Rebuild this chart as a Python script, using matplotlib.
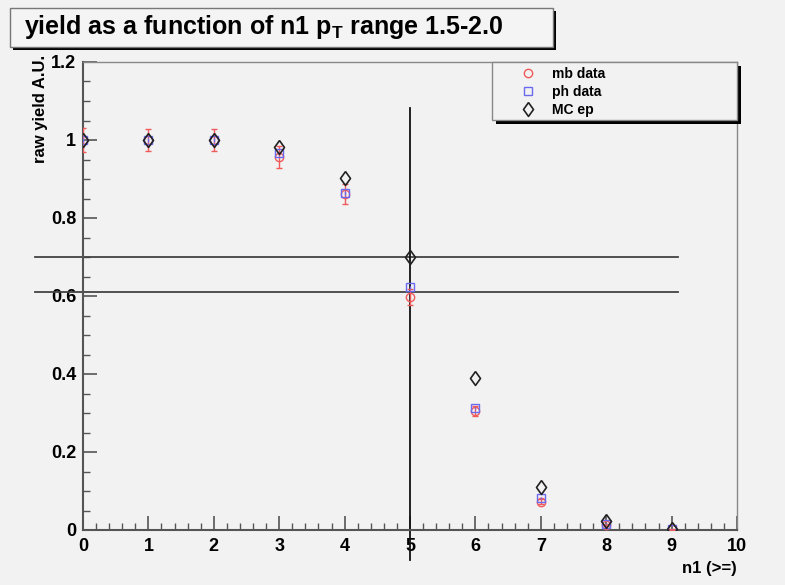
import numpy as np
import matplotlib.pyplot as plt
from matplotlib.patches import Rectangle
from matplotlib.lines import Line2D
from matplotlib.ticker import MultipleLocator, FuncFormatter

plt.rcParams['font.family'] = ['Liberation Sans', 'DejaVu Sans']
plt.rcParams['font.weight'] = 'bold'
plt.rcParams['mathtext.fontset'] = 'custom'
plt.rcParams['mathtext.rm'] = 'Liberation Sans:bold'
plt.rcParams['mathtext.bf'] = 'Liberation Sans:bold'

# data
n1 = [0, 1, 2, 3, 4, 5, 6, 7, 8, 9]
mb_data = [1.0, 1.0, 1.0, 0.957, 0.862, 0.597, 0.305, 0.073, 0.013, 0.002]
mb_err = [0.03, 0.028, 0.028, 0.028, 0.025, 0.02, 0.012, 0.006, 0.003, 0.001]
ph_data = [1.0, 1.0, 1.0, 0.966, 0.864, 0.622, 0.312, 0.082, 0.016, 0.002]
ph_err = [0.004, 0.004, 0.004, 0.004, 0.004, 0.004, 0.003, 0.002, 0.001, 0.001]
mc_ep = [1.0, 1.0, 1.0, 0.981, 0.903, 0.700, 0.390, 0.110, 0.022, 0.003]
hlines = [0.70, 0.61]
vline = 5

red = '#f05a5a'
blue = '#6a6af0'
dark = '#222222'
bg = '#f2f2f2'
# ROOT open diamond, a bit wider than matplotlib's thin diamond
diamond = [(0, 1), (0.72, 0), (0, -1), (-0.72, 0), (0, 1)]

fig = plt.figure(figsize=(7.85, 5.85), dpi=100, facecolor=bg)
W, H = 785.0, 585.0
ax = fig.add_axes([83 / W, 55 / H, 654 / W, 468 / H])
ax.set_facecolor(bg)

ax.errorbar(n1, mb_data, yerr=mb_err, fmt='o', mfc='none', mec=red,
            ecolor=red, ms=6, mew=1.0, capsize=2, elinewidth=1.0, zorder=3)
ax.errorbar(n1, ph_data, yerr=ph_err, fmt='s', mfc='none', mec=blue,
            ecolor=blue, ms=5.5, mew=1.0, capsize=0, elinewidth=1.0, zorder=4)
ax.plot(n1, mc_ep, ls='none', marker=diamond, mfc='none', mec=dark, ms=10, mew=1.2, zorder=5)

# cut lines drawn across and outside the frame
for yv in hlines:
    ax.plot([-0.73, 9.1], [yv, yv], color='#444444', lw=1.3, clip_on=False, zorder=2)
ax.plot([vline, vline], [-0.077, 1.082], color='#111111', lw=1.3, clip_on=False, zorder=2)

ax.set_xlim(0, 10)
ax.set_ylim(0, 1.2)
ax.xaxis.set_major_locator(MultipleLocator(1))
ax.xaxis.set_minor_locator(MultipleLocator(0.2))
ax.yaxis.set_major_locator(MultipleLocator(0.2))
ax.yaxis.set_minor_locator(MultipleLocator(0.05))
ax.yaxis.set_major_formatter(FuncFormatter(lambda v, p: '%g' % round(v, 2)))
ax.tick_params(axis='both', which='major', direction='in', length=10, width=1.2,
               color='#555555', labelsize=13, pad=6)
ax.tick_params(axis='both', which='minor', direction='in', length=5, width=1.0,
               color='#555555')
ax.tick_params(axis='y', pad=5)
for lab in ax.get_xticklabels() + ax.get_yticklabels():
    lab.set_fontweight('bold')

for s in ['left', 'bottom']:
    ax.spines[s].set_color('#555555')
    ax.spines[s].set_linewidth(1.5)
for s in ['top', 'right']:
    ax.spines[s].set_color('#888888')
    ax.spines[s].set_linewidth(1.0)

ax.set_ylabel('raw yield A.U.', loc='top', fontsize=12, fontweight='bold', labelpad=2)
ax.yaxis.label.set_y(1 + 7 / 468)
ax.set_xlabel('n1 (>=)', loc='right', fontsize=12, fontweight='bold', labelpad=4)

# title box with ROOT-style shadow
fig.patches.append(Rectangle((13 / W, 1 - 50 / H), 543 / W, 39 / H, transform=fig.transFigure,
                             facecolor='black', edgecolor='none', zorder=1))
fig.patches.append(Rectangle((10 / W, 1 - 47 / H), 543 / W, 39 / H, transform=fig.transFigure,
                             facecolor='#f4f4f4', edgecolor='#777777', lw=1.0, zorder=2))
fig.text(264 / W, 1 - 27 / H, r'yield as a function of n1 p$_\mathrm{T}$ range 1.5-2.0',
         ha='center', va='center', fontsize=18, fontweight='bold', zorder=3)

# legend box with shadow
fig.patches.append(Rectangle((496 / W, 1 - 124 / H), 245 / W, 58 / H, transform=fig.transFigure,
                             facecolor='black', edgecolor='none', zorder=1))
fig.patches.append(Rectangle((492 / W, 1 - 120 / H), 245 / W, 58 / H, transform=fig.transFigure,
                             facecolor=bg, edgecolor='#888888', lw=1.0, zorder=2))
handles = [
    Line2D([], [], ls='none', marker='o', mfc='none', mec=red, ms=6, mew=1.0),
    Line2D([], [], ls='none', marker='s', mfc='none', mec=blue, ms=5.5, mew=1.0),
    Line2D([], [], ls='none', marker=diamond, mfc='none', mec=dark, ms=10, mew=1.2),
]
labels = ['mb data', 'ph data', 'MC ep']
leg = fig.legend(handles, labels, loc='upper left', bbox_to_anchor=(508 / W, 1 - 57 / H),
                 frameon=False, prop={'weight': 'bold', 'size': 10}, handlelength=1.5,
                 handletextpad=1.0, labelspacing=0.3, borderpad=0.2)
leg.set_zorder(4)

fig.savefig('out.png', dpi=100, facecolor=bg)
